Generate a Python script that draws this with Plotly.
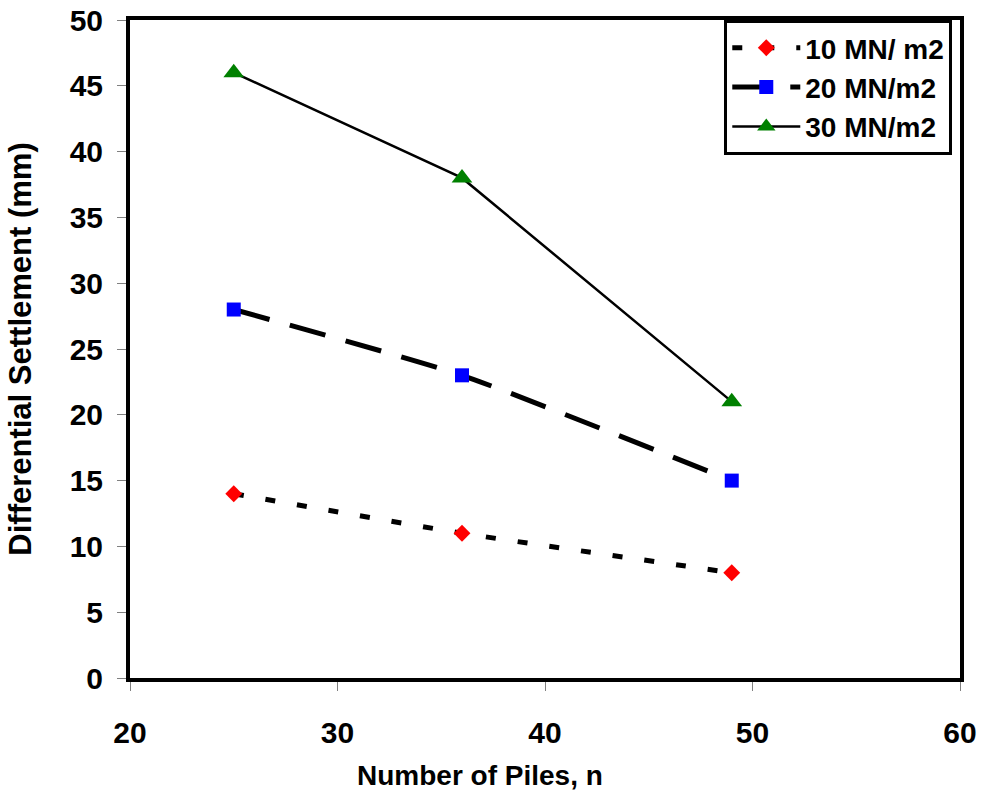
import plotly.graph_objects as go

piles = [25, 36, 49]
s10 = [14, 11, 8]
s20 = [28, 23, 15]
s30 = [46, 38, 21]
names = ["10 MN/ m2", "20 MN/m2", "30 MN/m2"]

x_ticks = [20, 30, 40, 50, 60]
y_ticks = [0, 5, 10, 15, 20, 25, 30, 35, 40, 45, 50]

FONT = "Arial, Liberation Sans, Helvetica, sans-serif"

fig = go.Figure()
fig.add_trace(go.Scatter(
    x=piles, y=s10, name=names[0], mode="lines+markers", legendgroup="a",
    line=dict(color="black", width=5, dash="10px,22px", shape="spline", smoothing=0.4),
    marker=dict(symbol="diamond", size=13, color="red"),
))
fig.add_trace(go.Scatter(
    x=piles, y=s20, name=names[1], mode="lines+markers", legendgroup="b",
    line=dict(color="black", width=5, dash="37px,21px", shape="spline", smoothing=0.5),
    marker=dict(symbol="square", size=14, color="blue"),
))
fig.add_trace(go.Scatter(
    x=piles, y=s30, name=names[2], mode="lines+markers", legendgroup="c",
    line=dict(color="black", width=2.5),
    marker=dict(symbol="triangle-up", size=18, color="green"),
))

axis_common = dict(
    showline=True, linecolor="black", linewidth=4, mirror=True,
    ticks="outside", ticklen=9, tickwidth=1, tickcolor="#808080",
    showgrid=False, zeroline=False, automargin=False,
    ticklabeloverflow="allow",
    tickfont=dict(family=FONT, size=30, color="black", weight="bold"),
)

fig.update_xaxes(
    range=[20, 60], tickvals=x_ticks, ticklabelstandoff=16,
    **axis_common,
)
fig.update_yaxes(
    range=[0, 50], tickvals=y_ticks, ticklabelstandoff=8,
    title=dict(text="<b>Differential Settlement (mm)</b>", font=dict(family=FONT, size=31, color="black"), standoff=30),
    **axis_common,
)

fig.add_annotation(
    text="<b>Number of Piles, n</b>", xref="paper", yref="paper",
    x=0.4217, y=0, xanchor="center", yanchor="middle", yshift=-97,
    showarrow=False, font=dict(family=FONT, size=28, color="black"),
)

fig.update_layout(
    width=986, height=800,
    margin=dict(l=130, r=26, t=20, b=122),
    plot_bgcolor="white", paper_bgcolor="white",
    legend=dict(
        x=0.716, y=1.0, xanchor="left", yanchor="top",
        bgcolor="white", bordercolor="black", borderwidth=3,
        font=dict(family=FONT, size=28, color="black", weight="bold"),
        itemwidth=68, tracegroupgap=4, traceorder="normal",
    ),
    showlegend=True,
)

fig.write_html("out.html", config={"displayModeBar": False},
               post_script="document.body.style.margin='0';")
